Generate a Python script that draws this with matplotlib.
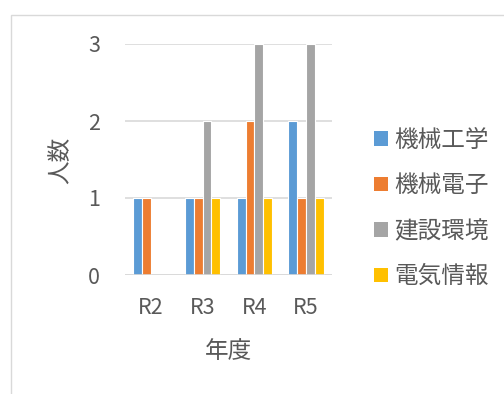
import matplotlib.pyplot as plt
import matplotlib.patches as mpatches
import numpy as np

plt.rcParams['font.family'] = ['Noto Sans CJK JP', 'DejaVu Sans']

years = ["R2", "R3", "R4", "R5"]
series_names = ["機械工学", "機械電子", "建設環境", "電気情報"]
kikai_kogaku = [1, 1, 1, 2]
kikai_denshi = [1, 1, 2, 1]
kensetsu_kankyo = [0, 2, 3, 3]
denki_joho = [0, 1, 1, 1]
colors = ["#5B9BD5", "#ED7D31", "#A5A5A5", "#FFC000"]

TEXT = "#595959"
GRID = "#D9D9D9"
FS = 15.5      # digits / latin
FS_JP = 17     # japanese labels

W, H = 504, 394
fig = plt.figure(figsize=(W / 100, H / 100), dpi=100)

# chart frame (runs past the right and bottom edges)
fig.patches.append(mpatches.Rectangle((11 / W, -0.1), 1.2, 1 - 15 / H + 0.1,
                                      transform=fig.transFigure, fill=False,
                                      edgecolor=GRID, linewidth=1.0))

ax = fig.add_axes([125 / W, 1 - 275 / H, (332 - 125) / W, (275 - 44) / H])

x = np.arange(len(years))
bw = 0.171
all_series = [kikai_kogaku, kikai_denshi, kensetsu_kankyo, denki_joho]
for i, (vals, name, c) in enumerate(zip(all_series, series_names, colors)):
    ax.bar(x + (i - 1.5) * bw, vals, width=bw, color=c, edgecolor="white",
           linewidth=0.8, label=name, zorder=3)

ax.set_xlim(-0.5, len(years) - 0.5)
ax.set_ylim(0, 3)
ax.set_yticks([0, 1, 2, 3])
ax.set_xticks(x)
ax.set_xticklabels(years)
for s in ax.spines.values():
    s.set_visible(False)
ax.yaxis.grid(True, color=GRID, linewidth=1.2, zorder=0)
ax.set_axisbelow(True)
ax.tick_params(axis="both", length=0, labelsize=FS, labelcolor=TEXT)
ax.tick_params(axis="y", pad=18)
ax.tick_params(axis="x", pad=16)
ax.axhline(0, color=GRID, linewidth=1.2, zorder=4)

fig.text(229 / W, 1 - 351 / H, "年度", ha="center", va="center",
         fontsize=FS_JP, color=TEXT)
fig.text(61 / W, 1 - 160 / H, "人数", ha="center", va="center",
         rotation=90, fontsize=FS_JP, color=TEXT)

leg = fig.legend(loc="upper left", bbox_to_anchor=(374 / W, 1 - 129 / H),
                 frameon=False, fontsize=FS_JP, labelcolor=TEXT,
                 handlelength=0.58, handleheight=0.58, handletextpad=0.28,
                 labelspacing=0.95, borderpad=0, borderaxespad=0)
for h in leg.legend_handles:
    h.set_edgecolor("none")

fig.savefig("out.png", dpi=100)
